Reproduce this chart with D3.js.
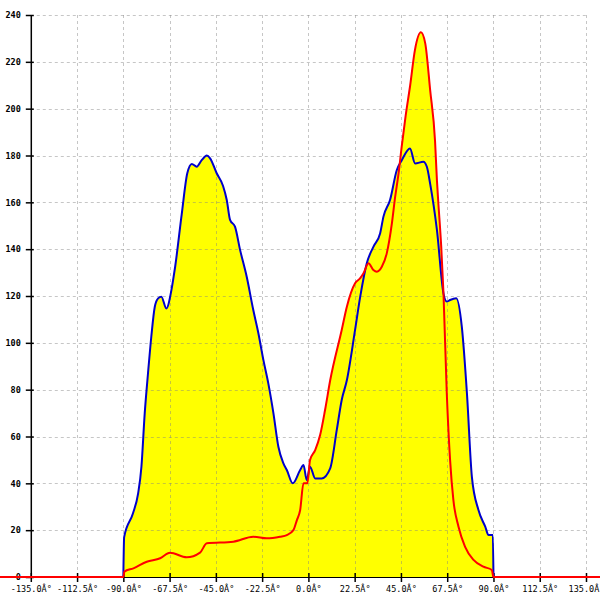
<!DOCTYPE html>
<html><head><meta charset="utf-8">
<script src="https://cdn.jsdelivr.net/npm/d3@7"></script>
<style>body{margin:0;background:#fff}svg{display:block}</style>
</head><body>
<svg id="c" width="600" height="600"></svg>
<script>
const xTicks = [-135, -112.5, -90, -67.5, -45, -22.5, 0, 22.5, 45, 67.5, 90, 112.5, 135];
const xTickLabels = ["-135.0Â°","-112.5Â°","-90.0Â°","-67.5Â°","-45.0Â°","-22.5Â°","0.0Â°","22.5Â°","45.0Â°","67.5Â°","90.0Â°","112.5Â°","135.0Â°"];
const yTicks = [0,20,40,60,80,100,120,140,160,180,200,220,240];

const blueAngles = [-90,-89.6,-85.3,-82.8,-81.2,-79.6,-78.0,-76.4,-74.7,-73.1,-71.5,-69.1,-66.6,-65.8,-64.8,-61.6,-58.9,-56.7,-54.3,-51.9,-49.4,-47.8,-44.6,-41.5,-39.7,-38.1,-35.7,-33.2,-30.0,-26.8,-24.3,-21.9,-19.5,-17.0,-14.6,-12.2,-10.5,-7.6,-4.0,-2.4,-0.8,0.8,3.3,6.5,10.6,13.8,16.2,18.7,22.7,25.2,28.4,31.6,34.9,36.5,39.7,43.0,45.4,49.4,51.9,55.9,57.6,59.2,62.5,65.7,67.3,68.9,71.9,74.6,77.1,79.5,82.7,86.0,87.6,89.7,90];
const blueValues = [0,17,27.2,35.7,47.1,69.9,87,102.6,115.4,119,119.7,114.7,122.6,126.8,132.5,155,172.4,176.4,175.2,178,180,178.8,172.4,167,161,152.5,149.6,139.6,128.2,114,104,92.7,82.7,69.9,55.6,48.6,45.7,40,45.7,47.8,41.4,47.1,42.1,42.1,46.4,62.8,75.6,84,105.5,119.7,134,141,146.8,153.9,161,173.8,178,183,176.6,177.3,175.2,168,148.2,121,117.6,118.3,119,106.9,78.4,42.8,28.6,21.5,17.9,17.9,0];

const redAngles = [-160,-90,-89.5,-85.1,-78.6,-72.1,-67.3,-59.2,-52.7,-49.4,-36.5,-26.8,-20.2,-13.8,-10.5,-7.3,-5.6,-4.0,-2.4,-0.5,0.8,3.3,5.7,8.1,10.6,16.2,18.7,22.7,25.2,26.8,29.2,31.6,33.3,35.7,38.1,40.6,42.2,43.8,45.4,47.3,49.5,51.8,54.7,56.8,59.2,61.6,62.5,63.1,64.6,65.7,67.3,68.9,70.5,73.0,76.2,80.3,85.1,89.2,90,160];
const redValues = [0,0,2.3,3.7,6.5,8,10.4,8.4,10.4,14.4,15.1,17.2,16.5,17.2,17.9,20,24.3,28.6,40,40,50,54.2,60.6,71.3,84,105.5,115.4,125.4,127.6,129.7,134,131.1,130.4,132.5,138.2,151,162.4,172,184,197,210,225,232.6,228,208,186,169.5,161,141,121,78.4,50,32.9,21.5,12.9,7.3,4.4,3,0,0];

const svg = d3.select("#c");
const x = d3.scaleLinear().domain([-135,135]).range([30.8,586]);
const y = d3.scaleLinear().domain([0,240]).range([577,15]);

const blue = blueAngles.map((a,i)=>[a,blueValues[i]]);
const red = redAngles.map((a,i)=>[a,redValues[i]]);

const area = d3.area().x(d=>x(d[0])).y0(y(0)).y1(d=>y(d[1])).curve(d3.curveMonotoneX);
const line = d3.line().x(d=>x(d[0])).y(d=>y(d[1])).curve(d3.curveMonotoneX);

svg.append("path").attr("d",area(blue)).attr("fill","#ffff00");
svg.append("path").attr("d",area(red)).attr("fill","#ffff00");

// grid
const g = svg.append("g").attr("stroke","#808080").attr("stroke-opacity",0.45).attr("stroke-dasharray","3,3").attr("stroke-width",1);
yTicks.filter(v=>v>0).forEach(v=>{
  g.append("line").attr("x1",x(-135)).attr("x2",x(135)).attr("y1",Math.round(y(v))+0.5).attr("y2",Math.round(y(v))+0.5);
});
xTicks.filter(v=>v>-135).forEach(v=>{
  g.append("line").attr("x1",Math.round(x(v))+0.5).attr("x2",Math.round(x(v))+0.5).attr("y1",y(240)).attr("y2",y(0));
});

// y axis
const yAxis = d3.axisLeft(y).tickValues(yTicks).tickFormat(d3.format("d")).tickSizeInner(5).tickSizeOuter(0).tickPadding(4);
const ya = svg.append("g").attr("transform",`translate(${x(-135)},0)`).call(yAxis);
ya.select(".domain").attr("stroke","#000").attr("stroke-width",1.5);
ya.selectAll(".tick line").attr("stroke","#000").attr("x2",3).attr("x1",-5).attr("stroke-width",1.5);
ya.selectAll(".tick text").attr("font-family","DejaVu Sans Mono").attr("font-size",8.5).attr("font-weight","bold").attr("fill","#000").attr("x",-10);

// x axis
const xAxis = d3.axisBottom(x).tickValues(xTicks).tickFormat((d,i)=>xTickLabels[i]).tickSizeInner(5).tickSizeOuter(0).tickPadding(5);
const xa = svg.append("g").attr("transform",`translate(0,${y(0)})`).call(xAxis);
xa.select(".domain").attr("stroke","#000");
xa.selectAll(".tick line").attr("stroke","#000").attr("y1",-4).attr("y2",5).attr("stroke-width",1.5);
xa.selectAll(".tick text").attr("font-family","DejaVu Sans Mono").attr("font-size",8.5).attr("fill","#000").attr("y",9);

// lines
svg.append("path").attr("d",line(blue)).attr("fill","none").attr("stroke","#0000cc").attr("stroke-width",2).attr("stroke-linejoin","round");
svg.append("path").attr("d",line(red)).attr("fill","none").attr("stroke","#ff0000").attr("stroke-width",2).attr("stroke-linejoin","round");
</script>
</body></html>
